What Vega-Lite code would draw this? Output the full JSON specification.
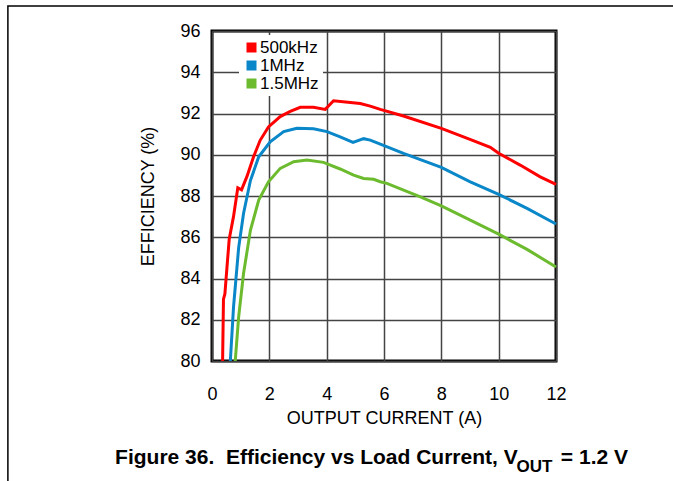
{
  "$schema": "https://vega.github.io/schema/vega-lite/v6.json",
  "width": 344,
  "height": 330,
  "autosize": {"type": "none"},
  "padding": {"left": 212, "top": 31, "right": 117, "bottom": 120},
  "background": "white",
  "config": {
    "font": "Liberation Sans",
    "view": {"stroke": "black", "strokeWidth": 3},
    "axis": {
      "labelFont": "Liberation Sans",
      "titleFont": "Liberation Sans",
      "labelFontSize": 18,
      "titleFontSize": 18,
      "labelColor": "black",
      "titleColor": "black",
      "titleFontWeight": "normal",
      "domain": false,
      "ticks": false,
      "tickSize": 0,
      "grid": true,
      "gridColor": "#444",
      "gridWidth": 1.5,
      "gridOpacity": 1
    }
  },
  "title": {
    "text": "Figure 36.\u00a0 Efficiency vs Load Current, V\u2003\u2002\u00a0 = 1.2 V",
    "subtitle": "OUT\u00a0\u00a0\u00a0\u00a0\u00a0\u00a0\u00a0\u00a0\u00a0\u00a0\u00a0\u00a0\u00a0\u00a0\u00a0\u00a0\u2060",
    "orient": "top",
    "anchor": "end",
    "frame": "group",
    "dx": 72,
    "offset": -470,
    "font": "Liberation Sans",
    "subtitleFont": "Liberation Sans",
    "fontSize": 21,
    "subtitleFontSize": 17,
    "fontWeight": "bold",
    "subtitleFontWeight": "bold",
    "color": "black",
    "subtitleColor": "black",
    "subtitlePadding": -9
  },
  "layer": [
    {
      "data": {"values": [{}]},
      "mark": {"type": "rect", "filled": false, "stroke": "black", "strokeWidth": 1.5},
      "encoding": {
        "x": {"datum": -7.12, "type": "quantitative", "scale": {"domain": [0, 12], "nice": false}},
        "x2": {"datum": 30},
        "y": {"datum": 97.21, "type": "quantitative", "scale": {"domain": [80, 96], "nice": false}},
        "y2": {"datum": 70}
      }
    },
    {
      "data": {
        "values": [
          {"current": 0.37, "eff": 80.0, "freq": "500kHz"},
          {"current": 0.40, "eff": 83.0, "freq": "500kHz"},
          {"current": 0.45, "eff": 83.25, "freq": "500kHz"},
          {"current": 0.52, "eff": 84.5, "freq": "500kHz"},
          {"current": 0.60, "eff": 85.9, "freq": "500kHz"},
          {"current": 0.75, "eff": 87.0, "freq": "500kHz"},
          {"current": 0.90, "eff": 88.4, "freq": "500kHz"},
          {"current": 1.03, "eff": 88.3, "freq": "500kHz"},
          {"current": 1.22, "eff": 88.95, "freq": "500kHz"},
          {"current": 1.45, "eff": 89.9, "freq": "500kHz"},
          {"current": 1.68, "eff": 90.7, "freq": "500kHz"},
          {"current": 1.97, "eff": 91.35, "freq": "500kHz"},
          {"current": 2.38, "eff": 91.85, "freq": "500kHz"},
          {"current": 2.73, "eff": 92.1, "freq": "500kHz"},
          {"current": 3.08, "eff": 92.3, "freq": "500kHz"},
          {"current": 3.54, "eff": 92.3, "freq": "500kHz"},
          {"current": 3.95, "eff": 92.2, "freq": "500kHz"},
          {"current": 4.24, "eff": 92.62, "freq": "500kHz"},
          {"current": 5.17, "eff": 92.48, "freq": "500kHz"},
          {"current": 5.52, "eff": 92.36, "freq": "500kHz"},
          {"current": 5.87, "eff": 92.2, "freq": "500kHz"},
          {"current": 6.68, "eff": 91.88, "freq": "500kHz"},
          {"current": 8.0, "eff": 91.28, "freq": "500kHz"},
          {"current": 9.0, "eff": 90.75, "freq": "500kHz"},
          {"current": 9.71, "eff": 90.36, "freq": "500kHz"},
          {"current": 10.0, "eff": 90.07, "freq": "500kHz"},
          {"current": 10.75, "eff": 89.5, "freq": "500kHz"},
          {"current": 11.45, "eff": 88.93, "freq": "500kHz"},
          {"current": 12.0, "eff": 88.56, "freq": "500kHz"},
          {"current": 0.64, "eff": 80.0, "freq": "1MHz"},
          {"current": 0.75, "eff": 82.6, "freq": "1MHz"},
          {"current": 0.93, "eff": 85.5, "freq": "1MHz"},
          {"current": 1.10, "eff": 87.15, "freq": "1MHz"},
          {"current": 1.34, "eff": 88.75, "freq": "1MHz"},
          {"current": 1.63, "eff": 89.9, "freq": "1MHz"},
          {"current": 2.03, "eff": 90.63, "freq": "1MHz"},
          {"current": 2.5, "eff": 91.12, "freq": "1MHz"},
          {"current": 2.96, "eff": 91.28, "freq": "1MHz"},
          {"current": 3.54, "eff": 91.26, "freq": "1MHz"},
          {"current": 4.01, "eff": 91.12, "freq": "1MHz"},
          {"current": 4.47, "eff": 90.87, "freq": "1MHz"},
          {"current": 4.92, "eff": 90.6, "freq": "1MHz"},
          {"current": 5.29, "eff": 90.78, "freq": "1MHz"},
          {"current": 5.52, "eff": 90.71, "freq": "1MHz"},
          {"current": 5.87, "eff": 90.52, "freq": "1MHz"},
          {"current": 6.68, "eff": 90.07, "freq": "1MHz"},
          {"current": 8.0, "eff": 89.39, "freq": "1MHz"},
          {"current": 9.01, "eff": 88.69, "freq": "1MHz"},
          {"current": 10.0, "eff": 88.08, "freq": "1MHz"},
          {"current": 10.99, "eff": 87.4, "freq": "1MHz"},
          {"current": 12.0, "eff": 86.64, "freq": "1MHz"},
          {"current": 0.81, "eff": 80.0, "freq": "1.5MHz"},
          {"current": 0.93, "eff": 82.14, "freq": "1.5MHz"},
          {"current": 1.10, "eff": 84.24, "freq": "1.5MHz"},
          {"current": 1.34, "eff": 86.34, "freq": "1.5MHz"},
          {"current": 1.63, "eff": 87.8, "freq": "1.5MHz"},
          {"current": 1.97, "eff": 88.69, "freq": "1.5MHz"},
          {"current": 2.38, "eff": 89.34, "freq": "1.5MHz"},
          {"current": 2.85, "eff": 89.66, "freq": "1.5MHz"},
          {"current": 3.31, "eff": 89.74, "freq": "1.5MHz"},
          {"current": 3.89, "eff": 89.63, "freq": "1.5MHz"},
          {"current": 4.47, "eff": 89.31, "freq": "1.5MHz"},
          {"current": 4.94, "eff": 89.01, "freq": "1.5MHz"},
          {"current": 5.29, "eff": 88.85, "freq": "1.5MHz"},
          {"current": 5.64, "eff": 88.81, "freq": "1.5MHz"},
          {"current": 5.87, "eff": 88.69, "freq": "1.5MHz"},
          {"current": 6.1, "eff": 88.61, "freq": "1.5MHz"},
          {"current": 7.27, "eff": 87.96, "freq": "1.5MHz"},
          {"current": 8.0, "eff": 87.52, "freq": "1.5MHz"},
          {"current": 9.01, "eff": 86.83, "freq": "1.5MHz"},
          {"current": 10.0, "eff": 86.15, "freq": "1.5MHz"},
          {"current": 10.99, "eff": 85.41, "freq": "1.5MHz"},
          {"current": 12.0, "eff": 84.56, "freq": "1.5MHz"}
        ]
      },
      "mark": {"type": "line", "strokeWidth": 3},
      "encoding": {
        "x": {
          "field": "current",
          "type": "quantitative",
          "scale": {"domain": [0, 12], "nice": false},
          "axis": {
            "values": [0, 2, 4, 6, 8, 10, 12],
            "title": "OUTPUT CURRENT (A)",
            "grid": true,
            "labelPadding": 24,
            "titlePadding": 6,
            "labelFlush": false
          }
        },
        "y": {
          "field": "eff",
          "type": "quantitative",
          "scale": {"domain": [80, 96], "nice": false},
          "axis": {
            "values": [80, 82, 84, 86, 88, 90, 92, 94, 96],
            "title": "EFFICIENCY (%)",
            "grid": true,
            "labelPadding": 12,
            "titlePadding": 22,
            "labelFlush": false
          }
        },
        "color": {
          "field": "freq",
          "type": "nominal",
          "scale": {"domain": ["500kHz", "1MHz", "1.5MHz"], "range": ["#ff0000", "#0a87c8", "#6cbb2f"]},
          "legend": {
            "title": null,
            "orient": "none",
            "legendX": 27,
            "legendY": 4,
            "symbolType": "square",
            "symbolSize": 100,
            "symbolStrokeWidth": 0,
            "labelFont": "Liberation Sans",
            "labelFontSize": 17,
            "labelColor": "black",
            "labelOffset": 0,
            "fillColor": "white",
            "padding": 4,
            "rowPadding": 0,
            "encode": {"symbols": {"update": {"fill": {"scale": "color", "field": "value"}, "opacity": {"value": 1}}}}
          }
        }
      }
    }
  ]
}
